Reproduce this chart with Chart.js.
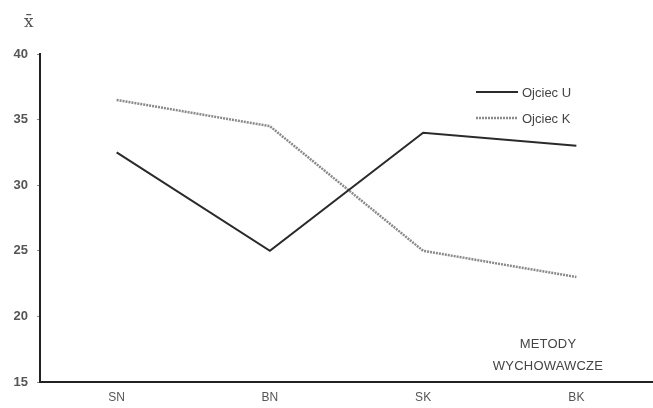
<!DOCTYPE html>
<html><head><meta charset="utf-8">
<script src="https://cdn.jsdelivr.net/npm/chart.js@4/dist/chart.umd.min.js"></script>
<style>
html,body{margin:0;padding:0;background:#fff;overflow:hidden;}
#wrap{position:relative;width:653px;height:408px;}
canvas{position:absolute;left:0;top:0;}
.lbl{position:absolute;font-family:Arial,"Liberation Sans",sans-serif;color:#444;}
</style></head>
<body>
<div id="wrap">
<canvas id="c" width="653" height="408"></canvas>
<div class="lbl" style="left:24px;top:11px;font-family:'DejaVu Serif',serif;font-size:17px;color:#555;">x̄</div>
<div class="lbl" style="left:463px;top:333px;width:170px;text-align:center;font-size:13px;line-height:22px;letter-spacing:0.2px;">METODY<br>WYCHOWAWCZE</div>
</div>
<script>
const categories = ["SN", "BN", "SK", "BK"];
const ojciecU = [32.5, 25, 34, 33];
const ojciecK = [36.5, 34.5, 25, 23];
const seriesNames = ["Ojciec U", "Ojciec K"];
const yTicks = [15, 20, 25, 30, 35, 40];

const legendPlugin = {
  id: 'customLegend',
  afterDraw(chart) {
    const ctx = chart.ctx;
    const items = [
      {name: seriesNames[0], color: '#2a2a2a', dash: [], w: 2},
      {name: seriesNames[1], color: '#8a8a8a', dash: [2,1], w: 2.5}
    ];
    ctx.save();
    items.forEach((it, i) => {
      const y = 92 + i * 26;
      ctx.beginPath();
      ctx.strokeStyle = it.color;
      ctx.lineWidth = it.w;
      ctx.setLineDash(it.dash);
      ctx.moveTo(476, y);
      ctx.lineTo(518, y);
      ctx.stroke();
      ctx.setLineDash([]);
      ctx.fillStyle = '#444';
      ctx.font = '13px Arial, "Liberation Sans", sans-serif';
      ctx.textBaseline = 'middle';
      ctx.fillText(it.name, 522, y + 1);
    });
    ctx.restore();
  }
};

new Chart(document.getElementById('c'), {
  type: 'line',
  data: {
    labels: categories,
    datasets: [
      {label: seriesNames[0], data: ojciecU, borderColor: '#2a2a2a', borderWidth: 2, pointRadius: 0, tension: 0, fill: false},
      {label: seriesNames[1], data: ojciecK, borderColor: '#8a8a8a', borderWidth: 2.5, borderDash: [2,1], pointRadius: 0, tension: 0, fill: false}
    ]
  },
  options: {
    responsive: false,
    animation: false,
    layout: {padding: {top: 54, right: 0, left: 0, bottom: 0}},
    plugins: {legend: {display: false}, tooltip: {enabled: false}},
    scales: {
      x: {
        type: 'category',
        offset: true,
        grid: {display: false, drawTicks: false},
        border: {display: true, color: '#222', width: 2},
        ticks: {color: '#555', font: {family: 'Arial, "Liberation Sans", sans-serif', size: 12}, padding: 8, maxRotation: 0},
        afterFit(s) { s.height = 26; }
      },
      y: {
        min: 15, max: 40,
        afterBuildTicks(s) { s.ticks = yTicks.map(v => ({value: v})); },
        grid: {display: true, drawOnChartArea: false, drawTicks: true, tickLength: 3, color: '#888', tickWidth: 1},
        border: {display: true, color: '#222', width: 2},
        ticks: {color: '#555', font: {family: 'Arial, "Liberation Sans", sans-serif', size: 13, weight: 'bold'}, padding: 9},
        afterFit(s) { s.width = 40; }
      }
    }
  },
  plugins: [legendPlugin]
});
</script>
</body></html>
